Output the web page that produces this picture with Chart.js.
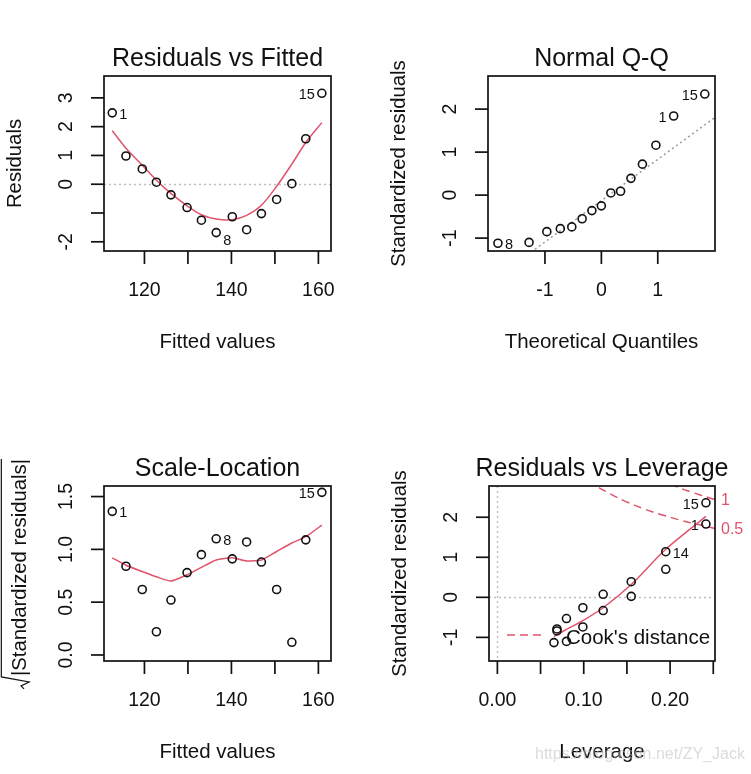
<!DOCTYPE html>
<html>
<head>
<meta charset="utf-8">
<title>Diagnostics lm</title>
<script src="https://cdn.jsdelivr.net/npm/chart.js@4.4.0/dist/chart.umd.min.js"></script>
<style>
  body { margin: 0; background: #fff; }
  #page { position: relative; width: 751px; height: 774px; overflow: hidden; }
  canvas { position: absolute; }
</style>
</head>
<body>
<div id="page">
  <canvas id="pRF" width="375" height="387" style="left:0;top:0"></canvas>
  <canvas id="pQQ" width="376" height="387" style="left:375px;top:0"></canvas>
  <canvas id="pSL" width="375" height="387" style="left:0;top:387px"></canvas>
  <canvas id="pRL" width="376" height="387" style="left:375px;top:387px"></canvas>
</div>
<script>

// 1. Residuals vs Fitted
const valeursAjustees = [112.6, 115.75, 119.5, 122.75, 126.1, 129.8, 133.1, 136.5, 140.2, 143.5, 146.9, 150.4, 153.9, 157.1, 160.8];
const residus = [2.48, 0.98, 0.53, 0.07, -0.37, -0.81, -1.25, -1.68, -1.13, -1.58, -1.02, -0.53, 0.02, 1.58, 3.16];
const lisseResidus = [1.86, 1.25, 0.66, 0.14, -0.32, -0.75, -1.06, -1.21, -1.23, -1.08, -0.73, -0.07, 0.70, 1.45, 2.14];

// 2. Normal Q-Q
const quantilesTheo = [-1.834, -1.282, -0.967, -0.728, -0.524, -0.341, -0.168, 0, 0.168, 0.341, 0.524, 0.728, 0.967, 1.282, 1.834];
const residusStdTries = [-1.12, -1.10, -0.85, -0.78, -0.74, -0.55, -0.36, -0.25, 0.05, 0.09, 0.39, 0.72, 1.16, 1.84, 2.35];
const droiteQQx = [-1.25, 2.05];
const droiteQQy = [-1.33, 1.84];

// 3. Scale-Location
const racineResidus = [1.36, 0.84, 0.62, 0.22, 0.52, 0.78, 0.95, 1.10, 0.91, 1.07, 0.88, 0.62, 0.12, 1.09, 1.54];
const lisseRacine = [0.92, 0.85, 0.79, 0.74, 0.70, 0.76, 0.83, 0.90, 0.92, 0.89, 0.90, 0.98, 1.06, 1.12, 1.23];

// 4. Residuals vs Leverage
const levier = [0.2415, 0.195, 0.155, 0.1225, 0.099, 0.080, 0.069, 0.0655, 0.069, 0.080, 0.099, 0.1225, 0.155, 0.195, 0.2415];
const residusStd = [1.83, 0.70, 0.39, 0.075, -0.26, -0.53, -0.84, -1.13, -0.79, -1.10, -0.74, -0.33, 0.025, 1.14, 2.36];
const lisseLevierX = [0.0655, 0.069, 0.080, 0.099, 0.1225, 0.155, 0.195, 0.2415];
const lisseLevierY = [-0.98, -0.93, -0.80, -0.58, -0.26, 0.32, 1.20, 2.02];
const cook05x = [0.105, 0.12, 0.14, 0.16, 0.18, 0.20, 0.22, 0.24, 0.252];
const cook05y = [2.92, 2.71, 2.48, 2.29, 2.13, 2.00, 1.88, 1.78, 1.72];
const cook1x = [0.20, 0.21, 0.22, 0.23, 0.24, 0.252];
const cook1y = [2.83, 2.74, 2.66, 2.59, 2.52, 2.44];
const niveauxCook = ['0.5', '1'];

// Graduations
const ticksAjustes = [120, 130, 140, 150, 160];
const labelsAjustes = ['120', '', '140', '', '160'];
const ticksResidus = [-2, -1, 0, 1, 2, 3];
const labelsResidus = ['-2', '', '0', '1', '2', '3'];
const ticksQuantiles = [-1, 0, 1];
const labelsQuantiles = ['-1', '0', '1'];
const ticksStd = [-1, 0, 1, 2];
const labelsStd = ['-1', '0', '1', '2'];
const ticksRacine = [0, 0.5, 1, 1.5];
const labelsRacine = ['0.0', '0.5', '1.0', '1.5'];
const ticksLevier = [0, 0.05, 0.10, 0.15, 0.20, 0.25];
const labelsLevier = ['0.00', '', '0.10', '', '0.20', ''];

const POLICE = '"Liberation Sans", Arial, Helvetica, sans-serif';
const ROUGE = '#DF536B';
const NOIR = '#111';

const pts = (xs, ys) => xs.map((x, i) => ({ x: x, y: ys[i] }));

function nuage(xs, ys) {
    return {
        data: pts(xs, ys), showLine: false,
        pointStyle: 'circle', pointRadius: 4, pointHoverRadius: 4,
        pointBorderWidth: 1.6, pointBorderColor: NOIR,
        pointBackgroundColor: 'rgba(0,0,0,0)'
    };
}

function courbe(xs, ys, couleur, tirets, tension) {
    return {
        data: pts(xs, ys), showLine: true, fill: false,
        pointRadius: 0, pointHoverRadius: 0,
        borderColor: couleur, borderWidth: 1.5,
        borderDash: tirets || [], tension: tension || 0
    };
}

function ligne(ctx, x1, y1, x2, y2) {
    ctx.beginPath(); ctx.moveTo(x1, y1); ctx.lineTo(x2, y2); ctx.stroke();
}

function texteVertical(ctx, txt, x, y, taille) {
    ctx.save();
    ctx.translate(x, y);
    ctx.rotate(-Math.PI / 2);
    ctx.font = taille + 'px ' + POLICE;
    ctx.textAlign = 'center';
    ctx.textBaseline = 'middle';
    ctx.fillText(txt, 0, 0);
    ctx.restore();
}

// titre y du Scale-Location : racine dessinée à la main
function titreRacine(ctx, txt, x, y, taille) {
    ctx.save();
    ctx.translate(x, y);
    ctx.rotate(-Math.PI / 2);
    ctx.font = taille + 'px ' + POLICE;
    ctx.textAlign = 'left';
    ctx.textBaseline = 'middle';
    const w = ctx.measureText(txt).width;
    const x0 = -(w + 14) / 2 + 14;
    ctx.fillText(txt, x0, 0);
    const haut = -taille * 0.92;
    ctx.strokeStyle = NOIR; ctx.lineWidth = 1.2;
    ctx.beginPath();
    ctx.moveTo(x0 + w, haut);
    ctx.lineTo(x0 - 1, haut);
    ctx.lineTo(x0 - 6, taille * 0.45);
    ctx.lineTo(x0 - 10, taille * 0.05);
    ctx.lineTo(x0 - 13, taille * 0.2);
    ctx.stroke();
    ctx.restore();
}

// Plugin : habillage façon graphique de base R
function habillageR(p) {
    return {
        id: 'habillageR',
        beforeDatasetsDraw(chart) {
            const ctx = chart.ctx, a = chart.chartArea;
            const sx = chart.scales.x, sy = chart.scales.y;
            ctx.save();
            ctx.beginPath(); ctx.rect(a.left, a.top, a.right - a.left, a.bottom - a.top); ctx.clip();
            ctx.strokeStyle = '#BEBEBE'; ctx.lineWidth = 1.4; ctx.setLineDash([2, 3]);
            (p.hLignes || []).forEach(v => {
                const y = Math.round(sy.getPixelForValue(v)) + 0.5;
                ligne(ctx, a.left, y, a.right, y);
            });
            (p.vLignes || []).forEach(v => {
                const x = Math.round(sx.getPixelForValue(v)) + 0.5;
                ligne(ctx, x, a.top, x, a.bottom);
            });
            ctx.restore();
        },
        afterDraw(chart) {
            const ctx = chart.ctx, a = chart.chartArea;
            const sx = chart.scales.x, sy = chart.scales.y;
            const cx = (a.left + a.right) / 2, cy = (a.top + a.bottom) / 2;
            ctx.save();
            ctx.strokeStyle = NOIR; ctx.fillStyle = NOIR; ctx.lineWidth = 1.7;
            ctx.strokeRect(a.left, a.top, a.right - a.left, a.bottom - a.top);

            // axe x
            ctx.font = '19.5px ' + POLICE;
            ctx.textAlign = 'center'; ctx.textBaseline = 'middle';
            p.xTicks.forEach((v, i) => {
                const x = sx.getPixelForValue(v);
                ligne(ctx, x, a.bottom, x, a.bottom + 13);
                if (p.xLabels[i]) ctx.fillText(p.xLabels[i], x, a.bottom + 40);
            });
            // axe y
            p.yTicks.forEach((v, i) => {
                const y = sy.getPixelForValue(v);
                ligne(ctx, a.left - 13, y, a.left, y);
                if (p.yLabels[i]) texteVertical(ctx, p.yLabels[i], a.left - 37, y, 19.5);
            });

            // titres
            ctx.font = '25px ' + POLICE;
            ctx.textBaseline = 'alphabetic';
            ctx.fillText(p.titre, cx, a.top - 10);
            ctx.font = '20.5px ' + POLICE;
            ctx.textBaseline = 'middle';
            ctx.fillText(p.titreX, cx, a.bottom + 91);
            if (p.racine) titreRacine(ctx, p.titreY, 20, cy + 1, 20.3);
            else texteVertical(ctx, p.titreY, a.left - 89, cy, 20.3);

            // étiquettes des observations
            ctx.font = '14.5px ' + POLICE;
            p.ids.forEach(id => {
                const d = chart.data.datasets[0].data[id.i];
                const x = sx.getPixelForValue(d.x), y = sy.getPixelForValue(d.y);
                const dy = 2 + (p.decaleNeg && d.y < 0 ? 6 : 0);
                ctx.textAlign = id.cote === 'g' ? 'right' : 'left';
                ctx.fillText(id.txt, x + (id.cote === 'g' ? -7 : 7), y + dy);
            });

            if (p.extra) p.extra(chart, ctx, a, sx, sy);
            ctx.restore();
        }
    };
}

const panneaux = [
    {
        id: 'pRF', ox: 0, oy: 0, boite: [104, 76, 331, 251],
        xMin: 110.7, xMax: 162.9, yMin: -2.32, yMax: 3.76,
        xTicks: ticksAjustes, xLabels: labelsAjustes, yTicks: ticksResidus, yLabels: labelsResidus,
        titre: 'Residuals vs Fitted', titreX: 'Fitted values', titreY: 'Residuals',
        hLignes: [0], decaleNeg: true,
        ids: [{ i: 0, txt: '1', cote: 'd' }, { i: 7, txt: '8', cote: 'd' }, { i: 14, txt: '15', cote: 'g' }],
        datasets: [nuage(valeursAjustees, residus), courbe(valeursAjustees, lisseResidus, ROUGE, [], 0.3)]
    },
    {
        id: 'pQQ', ox: 375, oy: 0, boite: [488, 76, 715, 251],
        xMin: -2.01, xMax: 2.015, yMin: -1.30, yMax: 2.77,
        xTicks: ticksQuantiles, xLabels: labelsQuantiles, yTicks: ticksStd, yLabels: labelsStd,
        titre: 'Normal Q-Q', titreX: 'Theoretical Quantiles', titreY: 'Standardized residuals',
        ids: [{ i: 0, txt: '8', cote: 'd' }, { i: 13, txt: '1', cote: 'g' }, { i: 14, txt: '15', cote: 'g' }],
        datasets: [nuage(quantilesTheo, residusStdTries), courbe(droiteQQx, droiteQQy, '#9A9A9A', [2, 3], 0)]
    },
    {
        id: 'pSL', ox: 0, oy: 387, boite: [104, 486, 331, 661],
        xMin: 110.7, xMax: 162.9, yMin: -0.057, yMax: 1.60,
        xTicks: ticksAjustes, xLabels: labelsAjustes, yTicks: ticksRacine, yLabels: labelsRacine,
        titre: 'Scale-Location', titreX: 'Fitted values', titreY: '|Standardized residuals|', racine: true,
        ids: [{ i: 0, txt: '1', cote: 'd' }, { i: 7, txt: '8', cote: 'd' }, { i: 14, txt: '15', cote: 'g' }],
        datasets: [nuage(valeursAjustees, racineResidus), courbe(valeursAjustees, lisseRacine, ROUGE, [], 0.2)]
    },
    {
        id: 'pRL', ox: 375, oy: 387, boite: [489, 486, 715, 661],
        xMin: -0.0097, xMax: 0.252, yMin: -1.59, yMax: 2.78,
        xTicks: ticksLevier, xLabels: labelsLevier, yTicks: ticksStd, yLabels: labelsStd,
        titre: 'Residuals vs Leverage', titreX: 'Leverage', titreY: 'Standardized residuals',
        hLignes: [0], vLignes: [0],
        ids: [{ i: 14, txt: '15', cote: 'g' }, { i: 0, txt: '1', cote: 'g' }, { i: 13, txt: '14', cote: 'd' }],
        datasets: [
            nuage(levier, residusStd),
            courbe(lisseLevierX, lisseLevierY, ROUGE, [], 0.3),
            courbe(cook05x, cook05y, ROUGE, [8, 5], 0.3),
            courbe(cook1x, cook1y, ROUGE, [8, 5], 0.3)
        ],
        extra(chart, ctx, a, sx, sy) {
            // niveaux de Cook dans la marge droite
            ctx.fillStyle = ROUGE;
            ctx.font = '16px ' + POLICE;
            ctx.textAlign = 'left'; ctx.textBaseline = 'middle';
            ctx.fillText(niveauxCook[0], a.right + 6, sy.getPixelForValue(cook05y[cook05y.length - 1]) + 1);
            ctx.fillText(niveauxCook[1], a.right + 6, sy.getPixelForValue(cook1y[cook1y.length - 1]) + 1);
            // légende
            ctx.strokeStyle = ROUGE; ctx.lineWidth = 1.5; ctx.setLineDash([8, 5]);
            ligne(ctx, 132, 248, 166, 248);
            ctx.setLineDash([]);
            ctx.fillStyle = NOIR; ctx.font = '20.5px ' + POLICE;
            ctx.fillText("Cook's distance", 191, 251);
            // filigrane
            ctx.fillStyle = 'rgba(190,190,190,0.55)';
            ctx.font = '16px ' + POLICE;
            ctx.fillText('https://blog.csdn.net/ZY_Jack', 160, 368);
        }
    }
];

panneaux.forEach(p => {
    const el = document.getElementById(p.id);
    const [gx, hy, dx, by] = p.boite;
    new Chart(el, {
        type: 'scatter',
        data: { datasets: p.datasets },
        options: {
            responsive: false, animation: false, devicePixelRatio: 1,
            layout: { padding: { left: gx - p.ox, top: hy - p.oy, right: el.width - (dx - p.ox), bottom: el.height - (by - p.oy) } },
            scales: {
                x: { type: 'linear', display: false, min: p.xMin, max: p.xMax },
                y: { type: 'linear', display: false, min: p.yMin, max: p.yMax }
            },
            plugins: { legend: { display: false }, tooltip: { enabled: false } },
            events: []
        },
        plugins: [habillageR(p)]
    });
});
</script>
</body>
</html>
